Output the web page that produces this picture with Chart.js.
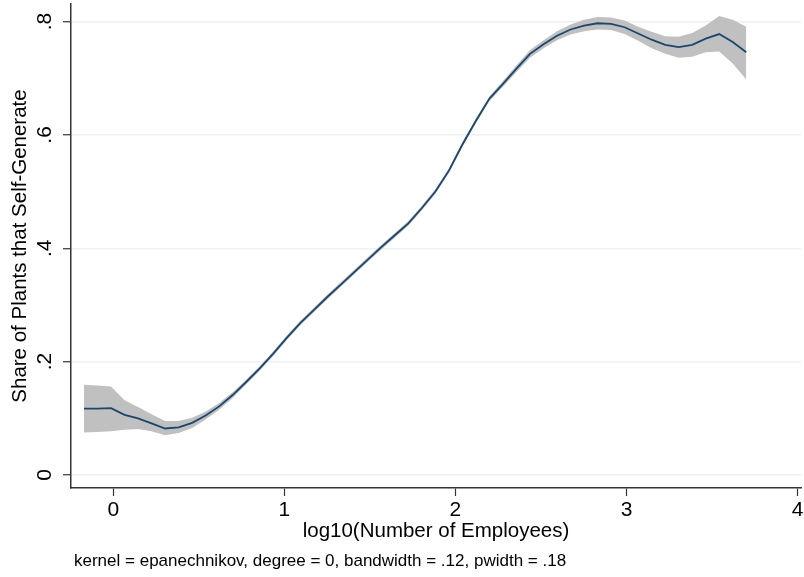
<!DOCTYPE html>
<html>
<head>
<meta charset="utf-8">
<script src="https://cdn.jsdelivr.net/npm/chart.js@4/dist/chart.umd.min.js"></script>
<style>
html,body{margin:0;padding:0;background:#fff;}
#wrap{width:804px;height:577px;position:relative;}
</style>
</head>
<body>
<div id="wrap"><canvas id="c" width="804" height="577"></canvas></div>
<script>
const xGrid = [-0.171,-0.092,-0.013,0.066,0.145,0.224,0.303,0.382,0.461,0.540,0.619,0.698,0.777,0.856,0.935,1.014,1.093,1.172,1.251,1.330,1.409,1.488,1.567,1.646,1.725,1.804,1.883,1.962,2.041,2.120,2.199,2.278,2.357,2.436,2.515,2.594,2.673,2.752,2.831,2.910,2.989,3.068,3.147,3.226,3.305,3.384,3.463,3.542,3.621,3.700];
const fitShare = [0.117,0.117,0.118,0.106,0.100,0.091,0.082,0.084,0.092,0.105,0.121,0.141,0.164,0.188,0.214,0.242,0.268,0.291,0.314,0.336,0.358,0.380,0.402,0.423,0.444,0.471,0.500,0.537,0.583,0.625,0.664,0.690,0.717,0.743,0.760,0.775,0.786,0.793,0.797,0.796,0.790,0.779,0.768,0.759,0.755,0.759,0.770,0.778,0.764,0.746];
const ciLow = [0.075,0.076,0.077,0.080,0.081,0.077,0.070,0.074,0.083,0.098,0.115,0.136,0.160,0.184,0.210,0.238,0.264,0.287,0.310,0.332,0.354,0.376,0.398,0.419,0.440,0.467,0.496,0.533,0.579,0.621,0.660,0.685,0.711,0.736,0.753,0.767,0.777,0.783,0.786,0.785,0.778,0.766,0.753,0.743,0.736,0.738,0.746,0.747,0.726,0.698];
const ciHigh = [0.159,0.158,0.156,0.132,0.120,0.107,0.095,0.095,0.101,0.112,0.127,0.146,0.168,0.192,0.218,0.246,0.272,0.295,0.318,0.340,0.362,0.384,0.406,0.427,0.448,0.475,0.504,0.541,0.587,0.629,0.668,0.695,0.723,0.750,0.767,0.783,0.795,0.803,0.808,0.807,0.802,0.791,0.782,0.774,0.773,0.780,0.793,0.810,0.803,0.791];
const xTicks = [0,1,2,3,4];
const xTickLabels = ['0','1','2','3','4'];
const yTicks = [0,0.2,0.4,0.6,0.8];
const yTickLabels = ['0','.2','.4','.6','.8'];
const xTitle = 'log10(Number of Employees)';
const yTitle = 'Share of Plants that Self-Generate';
const noteText = 'kernel = epanechnikov, degree = 0, bandwidth = .12, pwidth = .18';

const FONT = "'Liberation Sans', Arial, sans-serif";
const pts = arr => xGrid.map((x,i)=>({x:x, y:arr[i]}));

const notePlugin = {
  id:'note',
  afterDraw(chart){
    const ctx = chart.ctx;
    ctx.save();
    ctx.font = "17px " + FONT;
    ctx.fillStyle = '#000';
    ctx.textBaseline = 'middle';
    ctx.textAlign = 'left';
    ctx.fillText(noteText, 74, 561);
    ctx.restore();
  }
};

new Chart(document.getElementById('c'), {
  type:'line',
  data:{
    datasets:[
      {label:'fit', data:pts(fitShare), borderColor:'#1a476f', borderWidth:1.8, pointRadius:0, fill:false, tension:0},
      {label:'hi', data:pts(ciHigh), borderColor:'rgba(0,0,0,0)', borderWidth:0, pointRadius:0, fill:false, tension:0},
      {label:'lo', data:pts(ciLow), borderColor:'rgba(0,0,0,0)', borderWidth:0, pointRadius:0, fill:'-1', backgroundColor:'#c0c0c0', tension:0}
    ]
  },
  options:{
    responsive:false,
    animation:false,
    layout:{padding:{top:4,right:3,left:0,bottom:0}},
    plugins:{legend:{display:false}, tooltip:{enabled:false}},
    scales:{
      x:{
        type:'linear', min:-0.247, max:4.02,
        afterBuildTicks(s){ s.ticks = xTicks.map(v=>({value:v})); },
        afterFit(s){ s.height = 89; s.paddingLeft = 0; s.paddingRight = 0; },
        ticks:{ callback:(v)=>{const i=xTicks.indexOf(v); return i>=0?xTickLabels[i]:'';}, font:{family:FONT,size:21}, color:'#000', padding:2, maxRotation:0, minRotation:0, autoSkip:false },
        grid:{ drawOnChartArea:false, drawTicks:true, tickLength:8, tickColor:'#333', tickWidth:1.2 },
        border:{ color:'#333', width:1.5 },
        title:{ display:true, text:xTitle, font:{family:FONT,size:20.5}, color:'#000', padding:{top:0,bottom:33} }
      },
      y:{
        type:'linear', min:-0.023, max:0.831,
        afterBuildTicks(s){ s.ticks = yTicks.map(v=>({value:v})); },
        afterFit(s){ s.width = 71; s.paddingTop = 0; s.paddingBottom = 0; },
        ticks:{ callback:(v)=>{const i=yTicks.findIndex(t=>Math.abs(t-v)<1e-9); return i>=0?yTickLabels[i]:'';}, font:{family:FONT,size:21}, color:'#000', padding:9, minRotation:90, maxRotation:90, crossAlign:'center', autoSkip:false },
        grid:{ color:'#eaf2f3', lineWidth:1.5, drawTicks:true, tickLength:8, tickColor:'#333', tickWidth:1.2 },
        border:{ color:'#333', width:1.5 },
        title:{ display:true, text:yTitle, font:{family:FONT,size:20.5}, color:'#000', padding:{top:8,bottom:0} }
      }
    }
  },
  plugins:[notePlugin]
});
</script>
</body>
</html>
